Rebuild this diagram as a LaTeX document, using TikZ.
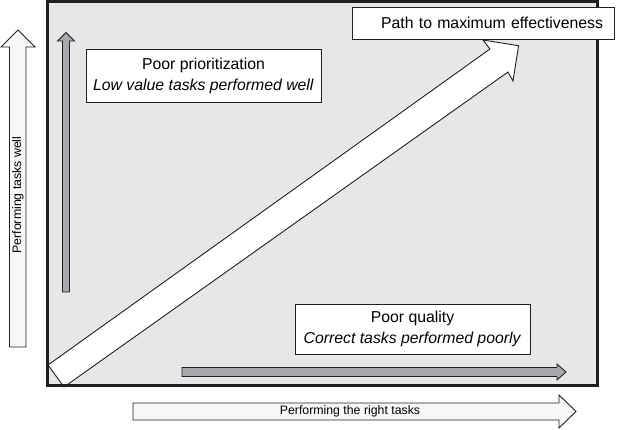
\documentclass[tikz,border=0pt]{standalone}
\usepackage{fontspec}
\setmainfont{Liberation Sans}
\usepackage{xcolor}
\definecolor{fieldgray}{HTML}{E6E7E8}
\definecolor{midgray}{HTML}{A7A9AC}
\definecolor{palegray}{HTML}{F7F7F7}
\definecolor{inkgray}{HTML}{231F20}
\usepackage{tikz}

\begin{document}
\begin{tikzpicture}[x=1pt, y=-1pt,
  border/.style={draw=inkgray, line width=3pt},
  blockarrow/.style={draw=inkgray, line width=0.9pt, fill=palegray, line join=miter},
  minorarrow/.style={draw=inkgray, line width=0.9pt, fill=midgray, line join=miter},
  textbox/.style={draw=inkgray, line width=0.9pt, fill=white, align=center,
                  font=\fontsize{15.8}{21}\selectfont, inner sep=0pt},
  axislabel/.style={font=\fontsize{12.3}{14}\selectfont, inner sep=0pt}
]
  \useasboundingbox (0,0) rectangle (619,430);

  % Field
  \fill[fieldgray] (47,2) rectangle (597,386);

  % Outer axis arrows
  \draw[blockarrow] (9.5,347) -- (9.5,47) -- (1,47) -- (18,30) -- (35,47)
    -- (26,47) -- (26,347) -- cycle;
  \draw[blockarrow] (133,403) -- (559,403) -- (559,395) -- (576,411.5)
    -- (559,428) -- (559,420) -- (133,420) -- cycle;

  % Inner gray arrows
  \draw[minorarrow] (62.5,292) -- (62.5,41) -- (57.5,41) -- (66,32.5)
    -- (74.5,41) -- (69.5,41) -- (69.5,292) -- cycle;
  \draw[minorarrow] (182,367.5) -- (557,367.5) -- (557,364) -- (566,372)
    -- (557,380) -- (557,376.5) -- (182,376.5) -- cycle;

  % Diagonal path
  \draw[blockarrow, fill=white] (48,365) -- (490,49) -- (483,40) -- (518.6,45.7)
    -- (513,81) -- (508,72) -- (64,387) -- cycle;

  % Frame
  \draw[border] (47,2) rectangle (597,386);

  % Labels
  \node[axislabel, rotate=90] (welllabel) at (18,195) {Performing tasks well};
  \node[axislabel] (rightlabel) at (350,411.5) {Performing the right tasks};

  \node[textbox, minimum width=235pt, minimum height=53pt] (prioritybox) at (203.5,75.5)
    {Poor prioritization\\\textit{Low value tasks performed well}};
  \node[textbox, minimum width=235pt, minimum height=50pt] (qualitybox) at (412.5,329)
    {Poor quality\\\textit{Correct tasks performed poorly}};
  \node[textbox, text width=240pt, inner xsep=11pt, minimum height=32pt, align=right]
    (pathbox) at (483,23) {Path to maximum effectiveness};
\end{tikzpicture}
\end{document}
